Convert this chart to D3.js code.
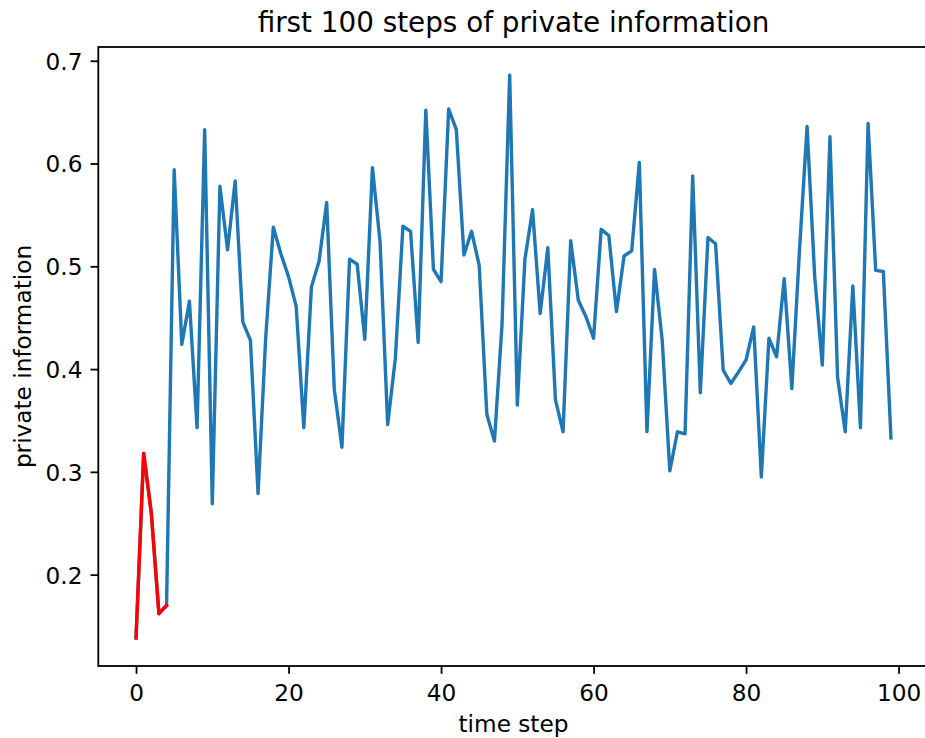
<!DOCTYPE html>
<html>
<head>
<meta charset="utf-8">
<script src="https://cdn.jsdelivr.net/npm/d3@7"></script>
<style>
  html, body { margin: 0; padding: 0; background: #fff; }
  svg { display: block; }
  text { font-family: "DejaVu Sans", sans-serif; fill: #000; }
</style>
</head>
<body>
<svg id="chart" width="925" height="738"></svg>
<script>
// ---- data ----
const title = "first 100 steps of private information";
const xLabel = "time step";
const yLabel = "private information";
const values = [
  0.1385, 0.318, 0.260, 0.162, 0.170, 0.594, 0.424, 0.466, 0.343, 0.633,
  0.269, 0.578, 0.516, 0.583, 0.446, 0.428, 0.279, 0.430, 0.538, 0.512,
  0.490, 0.461, 0.343, 0.480, 0.505, 0.562, 0.380, 0.324, 0.507, 0.502,
  0.429, 0.596, 0.524, 0.346, 0.410, 0.539, 0.534, 0.426, 0.652, 0.497,
  0.485, 0.653, 0.633, 0.511, 0.534, 0.501, 0.356, 0.330, 0.444, 0.686,
  0.365, 0.507, 0.555, 0.454, 0.518, 0.370, 0.339, 0.525, 0.467, 0.451,
  0.430, 0.536, 0.530, 0.456, 0.510, 0.515, 0.601, 0.339, 0.497, 0.428,
  0.301, 0.339, 0.337, 0.588, 0.377, 0.528, 0.522, 0.399, 0.386, 0.397,
  0.409, 0.441, 0.295, 0.430, 0.412, 0.488, 0.381, 0.515, 0.636, 0.490,
  0.404, 0.626, 0.392, 0.339, 0.481, 0.343, 0.639, 0.496, 0.495, 0.333
];
const highlightCount = 5; // first steps drawn in red
const xTicks = [0, 20, 40, 60, 80, 100];
const yTicks = [0.2, 0.3, 0.4, 0.5, 0.6, 0.7];

// ---- layout ----
const plotL = 98.3, plotR = 928.7, plotT = 47, plotB = 666;
const tickFont = 23.2, titleFont = 27.8;

const svg = d3.select("#chart");
svg.append("rect").attr("width", 925).attr("height", 738).attr("fill", "#fff");

const n = values.length;
const xPad = (n - 1) * 0.05;
const x = d3.scaleLinear().domain([-xPad, n - 1 + xPad]).range([plotL, plotR]);
const [ymin, ymax] = d3.extent(values);
const yPad = (ymax - ymin) * 0.05;
const y = d3.scaleLinear().domain([ymin - yPad, ymax + yPad]).range([plotB, plotT]);

const data = values.map((v, i) => ({ i, v }));
const line = d3.line().x(d => x(d.i)).y(d => y(d.v));

const g = svg.append("g");
g.append("path").datum(data)
  .attr("d", line).attr("fill", "none")
  .attr("stroke", "#1f77b4").attr("stroke-width", 3.4)
  .attr("stroke-linejoin", "round").attr("stroke-linecap", "square");
g.append("path").datum(data.slice(0, highlightCount))
  .attr("d", line).attr("fill", "none")
  .attr("stroke", "#ff0000").attr("stroke-width", 3.4)
  .attr("stroke-linejoin", "round").attr("stroke-linecap", "square");

// axes
const xAxis = d3.axisBottom(x).tickValues(xTicks).tickSize(7.8).tickPadding(8).tickFormat(d3.format("d"));
const yAxis = d3.axisLeft(y).tickValues(yTicks).tickSize(7.8).tickPadding(8).tickFormat(d3.format(".1f"));

const gx = svg.append("g").attr("transform", `translate(0,${plotB})`).call(xAxis);
const gy = svg.append("g").attr("transform", `translate(${plotL},0)`).call(yAxis);
[gx, gy].forEach(a => {
  a.select(".domain").remove();
  a.selectAll(".tick line").attr("stroke", "#000").attr("stroke-width", 1.8);
  a.selectAll(".tick text").attr("font-family", "DejaVu Sans").attr("font-size", tickFont).attr("fill", "#000");
});
gx.selectAll(".tick text").attr("dy", null).attr("y", 35);
gy.selectAll(".tick text").attr("dy", "0.36em");

// spines
svg.append("rect")
  .attr("x", plotL).attr("y", plotT)
  .attr("width", plotR - plotL).attr("height", plotB - plotT)
  .attr("fill", "none").attr("stroke", "#000").attr("stroke-width", 1.8);

// labels
svg.append("text").attr("x", (plotL + plotR) / 2).attr("y", 31.5)
  .attr("text-anchor", "middle").attr("font-size", titleFont).text(title);
svg.append("text").attr("x", (plotL + plotR) / 2).attr("y", 731.5)
  .attr("text-anchor", "middle").attr("font-size", tickFont).text(xLabel);
svg.append("text")
  .attr("transform", `translate(30.5,${(plotT + plotB) / 2}) rotate(-90)`)
  .attr("text-anchor", "middle").attr("font-size", tickFont).text(yLabel);
</script>
</body>
</html>
